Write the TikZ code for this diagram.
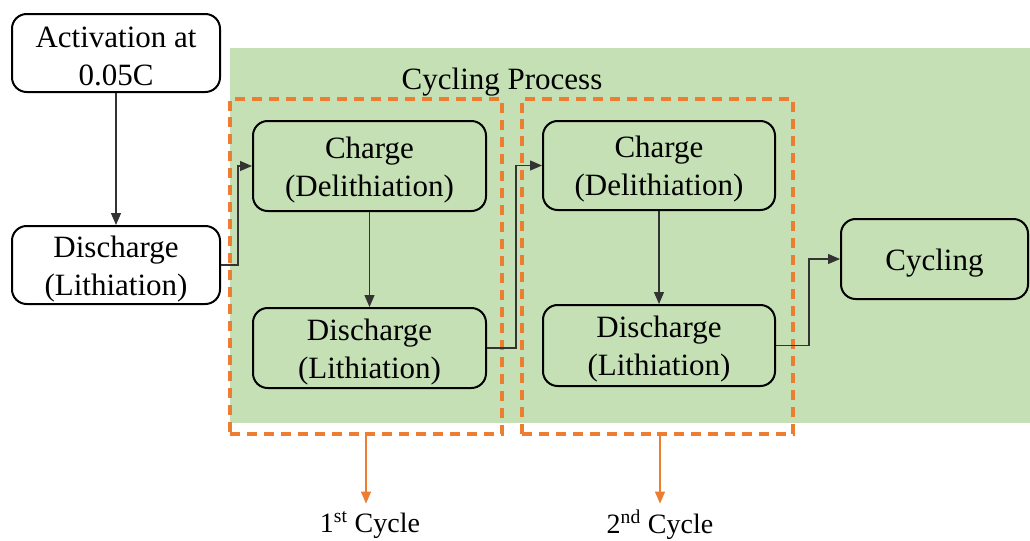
\documentclass[tikz,border=0pt]{standalone}
\usepackage{fontspec}
\setmainfont{Liberation Serif}
\usetikzlibrary{arrows.meta}
\definecolor{bggreen}{HTML}{C5E0B4}
\definecolor{dorange}{HTML}{ED7D31}
\begin{document}
\begin{tikzpicture}[x=0.75pt,y=-0.75pt,
 txt/.style={align=center,font=\fontsize{23.25}{28.5}\selectfont,inner sep=0pt,yshift=-2.7pt},
 box/.style={draw,line width=1.5pt,rounded corners=11pt,inner sep=0pt},
 dbox/.style={draw=dorange,line width=2.4pt,dash pattern=on 7.5pt off 5.2pt,inner sep=0pt},
 conn/.style={line width=0.9pt,draw=black!80,-{Triangle[length=9pt,width=7.5pt]}},
 oarr/.style={draw=dorange,line width=0.8pt,-{Triangle[length=9pt,width=7.5pt,fill=dorange]}},
 lab/.style={font=\fontsize{21}{25}\selectfont,inner sep=0pt}]
\useasboundingbox (0,0) rectangle (1030,540);
\fill[bggreen] (230,48) rectangle (1030,423);
\node[txt] (title) at (502,78) {Cycling Process};
\node[dbox,minimum width=204pt,minimum height=251.25pt] (cyc1) at (366,266.5) {};
\node[dbox,minimum width=203.25pt,minimum height=251.25pt] (cyc2) at (657.5,266.5) {};
\node[box,fill=white,minimum width=156pt,minimum height=58.5pt,label={[txt]center:{Activation at\\0.05C}}] (act) at (116,53) {};
\node[box,fill=white,minimum width=156pt,minimum height=58.5pt,label={[txt]center:{Discharge\\(Lithiation)}}] (d0) at (116,265) {};
\node[box,minimum width=174.75pt,minimum height=67.5pt,label={[txt]center:{Charge\\(Delithiation)}}] (c1) at (369.5,166) {};
\node[box,minimum width=174.75pt,minimum height=60pt,label={[txt]center:{Discharge\\(Lithiation)}}] (d1) at (369.5,348) {};
\node[box,minimum width=174pt,minimum height=66.75pt,label={[txt]center:{Charge\\(Delithiation)}}] (c2) at (659,165.5) {};
\node[box,minimum width=174pt,minimum height=60.75pt,label={[txt]center:{Discharge\\(Lithiation)}}] (d2) at (659,345.5) {};
\node[box,minimum width=140.25pt,minimum height=60pt,label={[txt]center:{Cycling}}] (cyc) at (934.5,259) {};
\draw[conn] (act.south) -- (d0.north);
\draw[conn] (d0.east) -- ++(17,0) |- (c1.west);
\draw[conn] (c1.south) -- (d1.north);
\draw[conn] (d1.east) -- ++(29,0) |- (c2.west);
\draw[conn] (c2.south) -- (d2.north);
\draw[conn] (d2.east) -- ++(33,0) |- (cyc.west);
\node[lab] (l1) at (370,525) {1\textsuperscript{st} Cycle};
\node[lab] (l2) at (660,525) {2\textsuperscript{nd} Cycle};
\draw[oarr] (cyc1.south) -- ++(0,68);
\draw[oarr] (cyc2.south -| l2) -- ++(0,68);
\end{tikzpicture}
\end{document}
